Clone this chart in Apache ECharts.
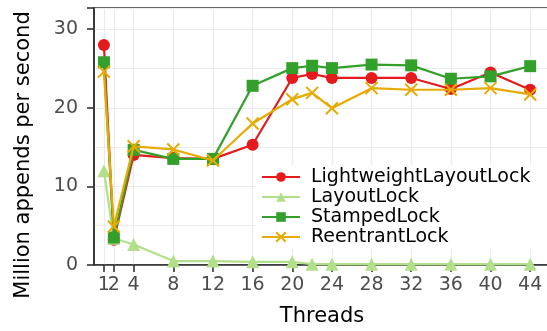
<!DOCTYPE html>
<html><head><meta charset="utf-8">
<script src="https://cdn.jsdelivr.net/npm/echarts@6/dist/echarts.min.js"></script>
<style>html,body{margin:0;padding:0;background:#fff}#c{width:547px;height:331px}</style>
</head><body><div id="c"></div>
<script>
const threads = [1, 2, 4, 8, 12, 16, 20, 22, 24, 28, 32, 36, 40, 44];
const xTicks = [1, 2, 4, 8, 12, 16, 20, 24, 28, 32, 36, 40, 44];
const xLabelsMain = [1, 4, 8, 12, 16, 20, 24, 28, 32, 36, 40, 44];
const xLabelsExtra = [2];
const lightweightLayoutLock = [28.0, 3.2, 14.0, 13.6, 13.5, 15.3, 23.8, 24.3, 23.8, 23.8, 23.8, 22.4, 24.5, 22.3];
const layoutLock = [12.0, 3.4, 2.6, 0.5, 0.5, 0.4, 0.4, 0.1, 0.1, 0.1, 0.1, 0.1, 0.1, 0.1];
const stampedLock = [25.8, 3.5, 14.65, 13.5, 13.5, 22.8, 25.05, 25.35, 25.05, 25.5, 25.4, 23.7, 24.0, 25.3];
const reentrantLock = [24.6, 4.9, 15.1, 14.7, 13.3, 18.0, 21.1, 21.9, 19.95, 22.5, 22.3, 22.3, 22.5, 21.7];
const seriesNames = ['LightweightLayoutLock', 'LayoutLock', 'StampedLock', 'ReentrantLock'];
const seriesColors = ['#e41a1c', '#b2df8a', '#33a02c', '#e6ab02'];
const seriesData = [lightweightLayoutLock, layoutLock, stampedLock, reentrantLock];
const symbols = ['circle', 'triangle', 'rect', 'path://M0,0 L10,10 M10,0 L0,10'];
const symbolSizes = [12, 13, 12, 12];

const FONT = 'DejaVu Sans';
const tickLabelStyle = {fontFamily: FONT, fontSize: 19, color: '#4d4d4d'};
const chart = echarts.init(document.getElementById('c'));
chart.setOption({
  animation: false,
  textStyle: {fontFamily: FONT},
  grid: {left: 94, top: 8, width: 456, height: 257, show: true, borderColor: '#333', borderWidth: 1.6,
    containLabel: false, outerBoundsMode: 'none'},
  legend: {
    orient: 'vertical', left: 256, top: 165, padding: [2, 40, 2, 5],
    backgroundColor: '#fff', itemGap: 0, itemWidth: 38, itemHeight: 12,
    textStyle: {fontFamily: FONT, fontSize: 19, color: '#000', lineHeight: 20, padding: [0, 0, 0, 6]},
    data: seriesNames
  },
  xAxis: [{
    type: 'value', min: 0, max: 46,
    name: 'Threads', nameLocation: 'middle', nameGap: 41,
    nameTextStyle: {fontFamily: FONT, fontSize: 21, color: '#000'},
    axisLine: {show: true, lineStyle: {color: '#333', width: 1.6}},
    axisTick: {show: true, customValues: xTicks, length: 7, lineStyle: {color: '#333', width: 1.6}},
    axisLabel: Object.assign({customValues: xLabelsMain, hideOverlap: false, margin: 11}, tickLabelStyle),
    splitLine: {show: true, lineStyle: {color: '#ebebeb', width: 1.2}}
  }, {
    type: 'value', min: 0, max: 46, position: 'bottom', offset: 0,
    axisLine: {show: false}, axisTick: {show: false}, splitLine: {show: false},
    axisLabel: Object.assign({customValues: xLabelsExtra, hideOverlap: false, margin: 11}, tickLabelStyle)
  }],
  yAxis: {
    type: 'value', min: 0, max: 32.7, interval: 10,
    name: 'Million appends per second', nameLocation: 'middle', nameGap: 60,
    nameTextStyle: {fontFamily: FONT, fontSize: 21, color: '#000', padding: [0, 37, 0, 0]},
    axisLine: {show: true, lineStyle: {color: '#333', width: 1.6}},
    axisTick: {show: true, length: 7, lineStyle: {color: '#333', width: 1.6}},
    axisLabel: Object.assign({margin: 16, formatter: v => (v % 10 === 0 ? String(v) : '')}, tickLabelStyle),
    splitLine: {show: true, lineStyle: {color: '#ebebeb', width: 1.2}},
    minorTick: {show: false, splitNumber: 2},
    minorSplitLine: {show: true, lineStyle: {color: '#ebebeb', width: 1.2}}
  },
  series: seriesNames.map((name, i) => ({
    name: name, type: 'line', xAxisIndex: 0,
    data: threads.map((t, j) => [t, seriesData[i][j]]),
    symbol: symbols[i], symbolSize: symbolSizes[i], showAllSymbol: true,
    lineStyle: {color: seriesColors[i], width: 2.2},
    itemStyle: i === 3 ? {color: seriesColors[i], borderColor: seriesColors[i], borderWidth: 2} : {color: seriesColors[i], borderWidth: 0},
    color: seriesColors[i],
    clip: false, z: 2 + i
  }))
});
</script></body></html>
